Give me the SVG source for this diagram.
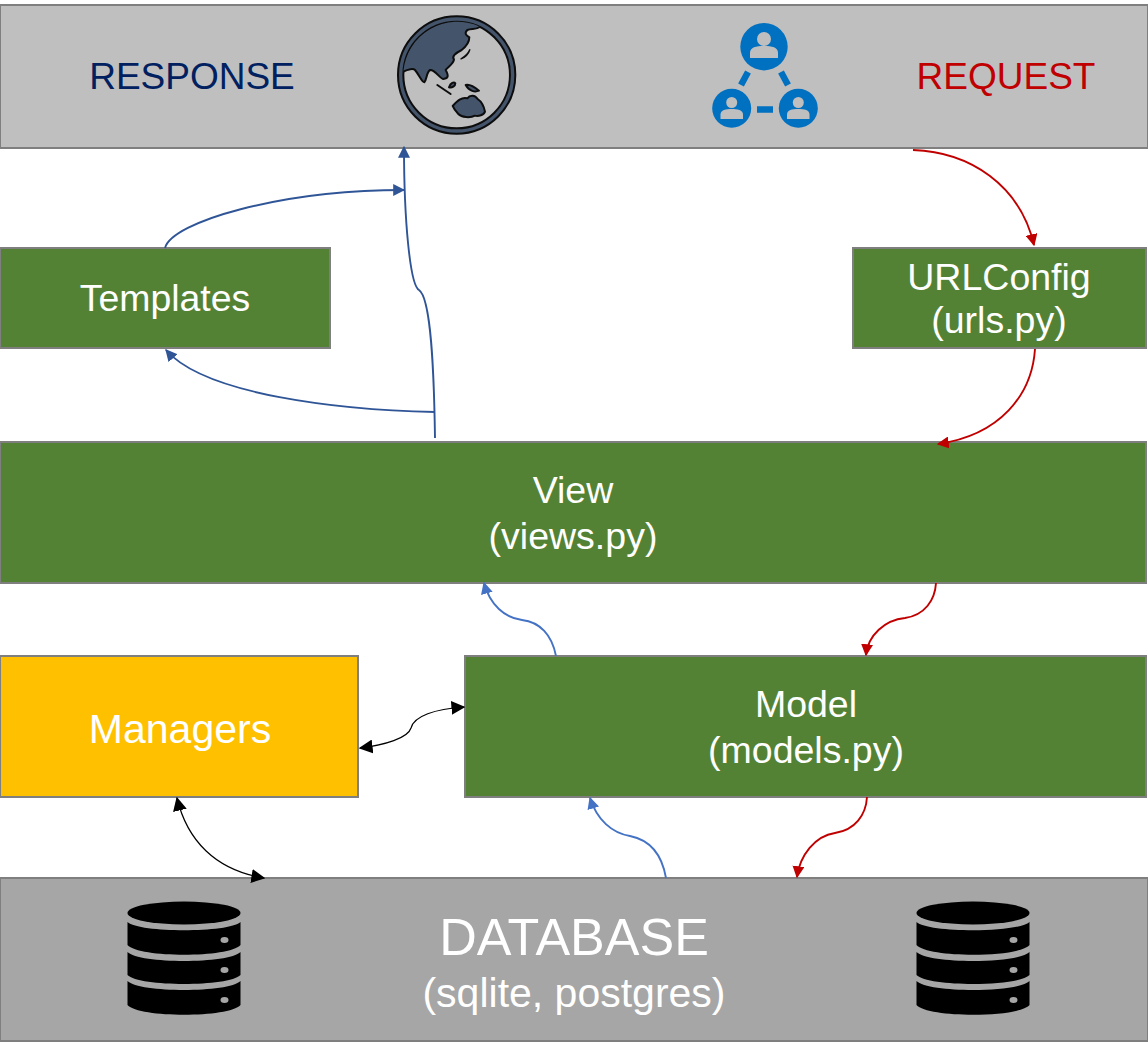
<svg xmlns="http://www.w3.org/2000/svg" width="1148" height="1042" viewBox="0 0 1148 1042">
<style>
text{font-family:"Liberation Sans",Arial,sans-serif;text-anchor:middle;fill:#fff}
.g{fill:#548235;stroke:#7f7f7f;stroke-width:2}
.c{fill:none;stroke-width:1.9}
.db{stroke:#2f5597}.lb{stroke:#4472c4}.r{stroke:#c00000}.k{stroke:#000;stroke-width:1.2}
.ic{fill:#44546a;stroke:#0d0d0d;stroke-width:6;stroke-linejoin:round}
</style>
<defs>
<marker id="adb" viewBox="0 0 10 10" refX="9" refY="5" markerWidth="12" markerHeight="12" markerUnits="userSpaceOnUse" orient="auto-start-reverse"><path d="M0 0L10 5L0 10z" fill="#2f5597"/></marker>
<marker id="alb" viewBox="0 0 10 10" refX="9" refY="5" markerWidth="12" markerHeight="12" markerUnits="userSpaceOnUse" orient="auto-start-reverse"><path d="M0 0L10 5L0 10z" fill="#4472c4"/></marker>
<marker id="ar" viewBox="0 0 10 10" refX="9" refY="5" markerWidth="12" markerHeight="12" markerUnits="userSpaceOnUse" orient="auto-start-reverse"><path d="M0 0L10 5L0 10z" fill="#c00000"/></marker>
<marker id="ak" viewBox="0 0 10 10" refX="9" refY="5" markerWidth="14" markerHeight="14" markerUnits="userSpaceOnUse" orient="auto-start-reverse"><path d="M0 0L10 5L0 10z" fill="#000"/></marker>
<g id="cyl">
<ellipse cx="0" cy="0" rx="56.500" ry="11.500" fill="#000"/>
<path d="M-56.500 9C-45 20 45 20 56.500 9V32C45 45-45 45-56.500 32z" fill="#000"/>
<path d="M-56.500 39C-45 51 45 51 56.500 39V62C45 74-45 74-56.500 62z" fill="#000"/>
<path d="M-56.500 68C-45 80 45 80 56.500 68V92C45 105-45 105-56.500 92z" fill="#000"/>
<ellipse cx="40.500" cy="27" rx="4" ry="3" fill="#a6a6a6"/>
<ellipse cx="40.500" cy="57" rx="4" ry="3" fill="#a6a6a6"/>
<ellipse cx="40.500" cy="87" rx="4" ry="3" fill="#a6a6a6"/>
</g>
</defs>

<g id="topbar">
<rect x="0" y="5" width="1148" height="143" fill="#bfbfbf" stroke="#7f7f7f" stroke-width="2"/>
<text x="192" y="89" font-size="37" style="fill:#002060">RESPONSE</text>
<text x="1006" y="89" font-size="37" style="fill:#c00000">REQUEST</text>
<g id="globe" transform="translate(380 0) scale(.3333)">
<circle cx="230" cy="225" r="176" class="ic"/>
<circle cx="230" cy="225" r="160" fill="#bfbfbf" stroke="#0d0d0d" stroke-width="6"/>
<path fill="#44546a" d="M70 215C85 207 100 205 105 210C118 225 125 247 133 247C140 240 140 215 150 210C165 208 180 237 190 237C205 235 207 228 197 210C205 200 222 190 222 178C215 170 225 160 245 150C258 140 268 125 268 112C258 105 252 100 262 90C275 85 290 90 300 80A163 163 0 0 0 70 215z"/>
<path fill="none" stroke="#0d0d0d" stroke-width="6" stroke-linejoin="round" d="M70 215C85 207 100 205 105 210C118 225 125 247 133 247C140 240 140 215 150 210C165 208 180 237 190 237C205 235 207 228 197 210C205 200 222 190 222 178C215 170 225 160 245 150C258 140 268 125 268 112C258 105 252 100 262 90C275 85 290 90 300 80"/>
<path class="ic" d="M218 318C232 303 245 290 262 295C270 284 285 285 293 297C305 305 312 320 315 335C312 345 295 350 285 347C270 355 245 352 235 342C228 335 222 328 218 318z"/>
<path class="ic" d="M257 255C268 252 285 262 297 272C285 277 268 274 257 255z"/>
<path class="ic" d="M207 262C212 248 222 245 226 250C226 258 216 265 207 262z"/>
<path fill="none" stroke="#0d0d0d" stroke-width="6" stroke-linecap="round" d="M172 255L212 282"/>
<path fill="#44546a" stroke="#0d0d0d" stroke-width="4" d="M242 177C255 170 265 160 270 148C266 162 255 175 242 177z"/>
</g>
<g id="users">
<circle cx="764" cy="46.700" r="23.700" fill="#0070c0"/>
<circle cx="731.700" cy="108.300" r="19.500" fill="#0070c0"/>
<circle cx="798.300" cy="108.300" r="19.500" fill="#0070c0"/>
<circle cx="764" cy="39" r="7" fill="#bfbfbf"/>
<path d="M750 58V53C750 47 756 46 764 46S778 47 778 53V58z" fill="#bfbfbf"/>
<circle cx="731.700" cy="102.500" r="5.500" fill="#bfbfbf"/>
<path d="M720.500 119V114.500C720.500 110 726 109 731.700 109S743 110 743 114.500V119z" fill="#bfbfbf"/>
<circle cx="798.300" cy="102.500" r="5.500" fill="#bfbfbf"/>
<path d="M787 119V114.500C787 110 792 109 798.300 109S809.500 110 809.500 114.500V119z" fill="#bfbfbf"/>
<path d="M748 72L741 85M781 72L788 85M757 109.500H773" fill="none" stroke="#0070c0" stroke-width="6.500"/>
</g>
</g>

<g id="templates"><rect class="g" x="0" y="248" width="330" height="100"/><text x="165" y="311" font-size="37.400">Templates</text></g>
<g id="urlconfig"><rect class="g" x="853" y="248" width="293" height="100"/><text x="999" y="290" font-size="37.500">URLConfig</text><text x="999" y="333" font-size="37.500">(urls.py)</text></g>
<g id="view"><rect class="g" x="0" y="442" width="1146" height="141"/><text x="573" y="503" font-size="37.500">View</text><text x="573" y="549" font-size="37.500">(views.py)</text></g>
<g id="managers"><rect x="0" y="656" width="358" height="141" fill="#ffc000" stroke="#7f7f7f" stroke-width="2"/><text x="180" y="743" font-size="41">Managers</text></g>
<g id="model"><rect class="g" x="465" y="656" width="681" height="141"/><text x="806" y="717" font-size="37.500">Model</text><text x="806" y="763" font-size="37.500">(models.py)</text></g>
<g id="database"><rect x="0" y="878" width="1148" height="163" fill="#a6a6a6" stroke="#7f7f7f" stroke-width="2"/>
<text x="574" y="955" font-size="52">DATABASE</text><text x="574" y="1007" font-size="41">(sqlite, postgres)</text>
<use href="#cyl" x="184" y="913"/><use href="#cyl" x="973" y="913"/></g>

<g id="connectors">
<path class="c db" marker-end="url(#adb)" d="M435 438C434 370 431 298 419 290C410 285 404 220 404 147"/>
<path class="c db" marker-end="url(#adb)" d="M165 248C172 222 280 190 404 190"/>
<path class="c db" marker-end="url(#adb)" d="M435 412C340 410 205 395 166 350"/>
<path class="c r" marker-end="url(#ar)" d="M913 150C970 152 1020 185 1034 245"/>
<path class="c r" marker-end="url(#ar)" d="M1035 349C1032 395 1000 435 938 444"/>
<path class="c r" marker-end="url(#ar)" d="M936 583C935 600 925 615 905 618C885 620 868 635 866 655"/>
<path class="c r" marker-end="url(#ar)" d="M867 797C866 815 855 830 835 833C815 836 800 855 797 877"/>
<path class="c lb" marker-end="url(#alb)" d="M556 656C552 635 540 622 522 620C505 618 490 605 484 583"/>
<path class="c lb" marker-end="url(#alb)" d="M666 878C662 855 650 840 630 836C612 833 597 820 590 798"/>
<path class="c k" marker-start="url(#ak)" marker-end="url(#ak)" d="M360 748C385 745 408 738 411 728C414 716 435 709 464 707"/>
<path class="c k" marker-start="url(#ak)" marker-end="url(#ak)" d="M177 798C187 840 215 870 264 878"/>
</g>
</svg>
